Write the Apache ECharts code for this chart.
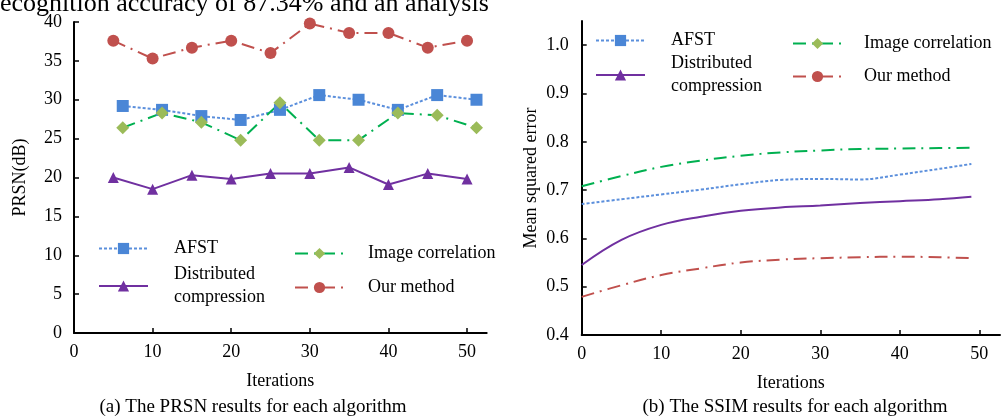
<!DOCTYPE html>
<html>
<head>
<meta charset="utf-8">
<script src="https://cdn.jsdelivr.net/npm/echarts@6/dist/echarts.min.js"></script>
<style>
html,body{margin:0;padding:0;background:#fff;}
#chart{width:1001px;height:418px;}
</style>
</head>
<body>
<div id="chart"></div>
<script>
// ---------- data ----------
const seriesNames = ['AFST', 'Distributed compression', 'Image correlation', 'Our method'];

// (a) PRSN results
const xOursDist = [5, 10, 15, 20, 25, 30, 35, 40, 45, 50];
const xAfstImg = [6.2, 11.2, 16.2, 21.2, 26.2, 31.2, 36.2, 41.2, 46.2, 51.2];
const afstPRSN = [29.2, 28.7, 27.9, 27.4, 28.7, 30.6, 30.0, 28.7, 30.6, 30.0];
const distPRSN = [20.0, 18.5, 20.3, 19.8, 20.5, 20.5, 21.3, 19.1, 20.5, 19.8];
const imgPRSN = [26.4, 28.3, 27.1, 24.8, 29.6, 24.8, 24.8, 28.3, 28.0, 26.4];
const oursPRSN = [37.6, 35.3, 36.7, 37.6, 36.0, 39.8, 38.6, 38.6, 36.7, 37.6];

// (b) SSIM results (mean squared error)
const ssimX = [0, 5, 10, 15, 20, 25, 30, 35, 40, 45, 49];
const afstMSE = [0.671, 0.681, 0.691, 0.701, 0.712, 0.721, 0.723, 0.722, 0.732, 0.744, 0.754];
const distMSE = [0.545, 0.597, 0.628, 0.645, 0.657, 0.664, 0.668, 0.673, 0.677, 0.681, 0.686];
const imgMSE = [0.708, 0.729, 0.748, 0.761, 0.771, 0.778, 0.782, 0.785, 0.786, 0.787, 0.7875];
const oursMSE = [0.479, 0.503, 0.524, 0.538, 0.550, 0.556, 0.559, 0.561, 0.562, 0.561, 0.559];

// tick labels
const iterTicks = [0, 10, 20, 30, 40, 50];
const prsnTicks = [0, 5, 10, 15, 20, 25, 30, 35, 40];
const mseTicks = [0.4, 0.5, 0.6, 0.7, 0.8, 0.9, 1.0];

// text
const topText = 'ecognition accuracy of 87.34% and an analysis';
const captionA = '(a) The PRSN results for each algorithm';
const captionB = '(b) The SSIM results for each algorithm';

// ---------- styles ----------
const FONT = "'Liberation Serif', 'Times New Roman', serif";
const C = {
  afstLine: '#5b8fdc', afstMark: '#4a86d6',
  dist: '#7030a0',
  imgLine: '#00b050', imgMark: '#9bbb59',
  ours: '#c0504d'
};
const DASHDOT = [13, 6, 2, 6];
const DOT = [3, 2];

const pair = (xs, ys) => xs.map((x, i) => [x, ys[i]]);

function axisCommon() {
  return {
    axisLine: { show: true, onZero: false, lineStyle: { color: '#000', width: 2 } },
    axisTick: { show: true, inside: true, length: 5, lineStyle: { color: '#000', width: 1.5 } },
    splitLine: { show: false },
    axisLabel: { color: '#000', fontFamily: FONT, fontSize: 18 },
    nameTextStyle: { color: '#000', fontFamily: FONT, fontSize: 18 }
  };
}

function xAxis(gridIndex, max) {
  const a = axisCommon();
  return Object.assign(a, {
    type: 'value', gridIndex, min: 0, max,
    name: 'Iterations', nameLocation: 'middle', nameGap: 39,
    axisLabel: Object.assign(a.axisLabel, { margin: 10, customValues: iterTicks }),
    axisTick: Object.assign(a.axisTick, { customValues: iterTicks })
  });
}

const yA = (() => {
  const a = axisCommon();
  return Object.assign(a, {
    type: 'value', gridIndex: 0, min: 0, max: 40,
    name: 'PRSN(dB)', nameLocation: 'middle', nameGap: 45,
    axisLabel: Object.assign(a.axisLabel, { margin: 12, customValues: prsnTicks }),
    axisTick: Object.assign(a.axisTick, { customValues: prsnTicks })
  });
})();

const yB = (() => {
  const a = axisCommon();
  return Object.assign(a, {
    type: 'value', gridIndex: 1, min: 0.4, max: 1.05,
    name: 'Mean squared error', nameLocation: 'middle', nameGap: 41,
    axisLabel: Object.assign(a.axisLabel, { margin: 13, customValues: mseTicks, formatter: v => v.toFixed(1) }),
    axisTick: Object.assign(a.axisTick, { customValues: mseTicks })
  });
})();

function lineSeries(name, idx, data, st, extra) {
  return Object.assign({
    type: 'line', name, xAxisIndex: idx, yAxisIndex: idx, data,
    symbol: st.symbol, symbolSize: st.size,
    itemStyle: { color: st.mark },
    lineStyle: { color: st.line, width: 2, type: st.type },
    emphasis: { disabled: true },
    animation: false
  }, extra || {});
}

const ST = {
  afst: { symbol: 'rect', size: 12, mark: C.afstMark, line: C.afstLine, type: DOT },
  dist: { symbol: 'triangle', size: 11, mark: C.dist, line: C.dist, type: 'solid' },
  img: { symbol: 'diamond', size: 13, mark: C.imgMark, line: C.imgLine, type: DASHDOT },
  ours: { symbol: 'circle', size: 12, mark: C.ours, line: C.ours, type: DASHDOT }
};

const smoothOpts = { showSymbol: false, smooth: 0.4 };

function legendItem(name, left, top, pad) {
  return {
    data: [name], left, top, padding: 0, orient: 'horizontal',
    itemWidth: 49, itemHeight: 14, selectedMode: false,
    formatter: n => n === 'Distributed compression' ? 'Distributed\ncompression' : n,
    textStyle: { color: '#000', fontFamily: FONT, fontSize: 18, lineHeight: 23, padding: [0, 0, 0, pad] }
  };
}

const option = {
  backgroundColor: '#fff',
  animation: false,
  grid: [
    { left: 74, top: 22, width: 412.7, height: 311 },
    { left: 581.7, top: 21, width: 418.3, height: 314 }
  ],
  xAxis: [xAxis(0, 52.5), xAxis(1, 52.6)],
  yAxis: [yA, yB],
  legend: [
    legendItem('AFST', 98, 237, 21),
    legendItem('Image correlation', 294, 242, 19),
    legendItem('Distributed compression', 98, 263, 21),
    legendItem('Our method', 294, 276, 19),
    legendItem('AFST', 595, 29, 21),
    legendItem('Image correlation', 792, 32, 17),
    legendItem('Distributed compression', 595, 52, 21),
    legendItem('Our method', 792, 65, 17)
  ],
  series: [
    lineSeries(seriesNames[0], 0, pair(xAfstImg, afstPRSN), ST.afst),
    lineSeries(seriesNames[1], 0, pair(xOursDist, distPRSN), ST.dist),
    lineSeries(seriesNames[2], 0, pair(xAfstImg, imgPRSN), ST.img),
    lineSeries(seriesNames[3], 0, pair(xOursDist, oursPRSN), ST.ours),
    lineSeries(seriesNames[0], 1, pair(ssimX, afstMSE), ST.afst, smoothOpts),
    lineSeries(seriesNames[1], 1, pair(ssimX, distMSE), ST.dist, smoothOpts),
    lineSeries(seriesNames[2], 1, pair(ssimX, imgMSE), ST.img, smoothOpts),
    lineSeries(seriesNames[3], 1, pair(ssimX, oursMSE), ST.ours, smoothOpts)
  ],
  graphic: [
    { type: 'text', left: 0, top: -9, style: { text: topText, font: '26px ' + FONT, fill: '#000' } },
    { type: 'text', x: 253, y: 407, style: { text: captionA, font: '19px ' + FONT, fill: '#000', align: 'center', verticalAlign: 'middle' } },
    { type: 'text', x: 795, y: 407, style: { text: captionB, font: '19px ' + FONT, fill: '#000', align: 'center', verticalAlign: 'middle' } }
  ]
};

const chart = echarts.init(document.getElementById('chart'), null, { renderer: 'canvas' });
chart.setOption(option);
</script>
</body>
</html>
